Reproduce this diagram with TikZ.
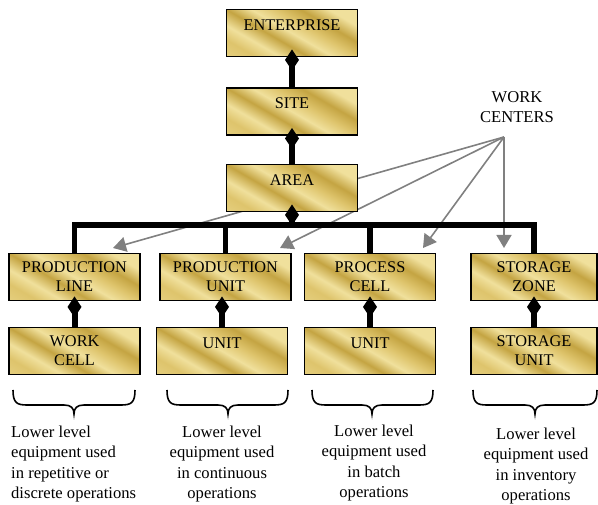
\documentclass[tikz,border=0pt]{standalone}
\usepackage{fontspec}
\setmainfont{Liberation Serif}
\usetikzlibrary{arrows.meta}
\definecolor{gA}{RGB}{240,224,156}
\definecolor{gB}{RGB}{196,164,66}
\definecolor{gC}{RGB}{222,196,108}
\definecolor{grayline}{RGB}{128,128,128}
\pgfdeclarehorizontalshading{goldsh}{100bp}{color(0bp)=(gA); color(25bp)=(gC); color(33bp)=(gA); color(42bp)=(gB); color(50bp)=(gA); color(58bp)=(gC); color(66bp)=(gB); color(75bp)=(gA); color(100bp)=(gA)}
\tikzset{
  box/.style={draw=black, line width=1.8pt, shading=goldsh, shading angle=60,
    minimum width=131pt, minimum height=47pt, inner sep=0pt, align=center,
    font=\fontsize{16.3}{19}\selectfont},
  oneline/.style={text height=21pt, text depth=26pt},
  comp/.style={line width=6pt, -{Diamond[length=21pt,width=14pt]}, shorten >=-8pt},
  comptwo/.style={comp, shorten >=-5pt},
  bus/.style={line width=5.5pt, line join=miter},
  ptr/.style={draw=grayline, line width=1.6pt, -{Triangle[length=13pt,width=15pt]}},
  brc/.style={line width=1.6pt},
  note/.style={font=\fontsize{16.6}{20.2}\selectfont, inner sep=0pt}
}
\begin{document}
\begin{tikzpicture}[x=1pt,y=-1pt]
\useasboundingbox (0,0) rectangle (598,505);
% work centers label and pointers
\node[note, align=center] (wc) at (517,107) {WORK\\CENTERS};
\coordinate (wcs) at (504,137);
\coordinate (t1) at (113,248);
\coordinate (t2) at (280,248);
\coordinate (t3) at (423,248);
\coordinate (t4) at (504,248);
\draw[ptr] (wcs) -- (t1);
\draw[ptr] (wcs) -- (t2);
\draw[ptr] (wcs) -- (t3);
\draw[ptr] (wcs) -- (t4);
% boxes
\node[box,oneline] (ent) at (292,33) {ENTERPRISE};
\node[box,oneline] (site) at (292,111.5) {SITE};
\node[box,oneline] (area) at (292,188) {AREA};
\node[box] (pl) at (74.5,277) {PRODUCTION\\LINE};
\node[box] (pu) at (225.5,277) {PRODUCTION\\UNIT};
\node[box] (pc) at (370,277) {PROCESS\\CELL};
\node[box, minimum width=126pt] (sz) at (534,277) {STORAGE\\ZONE};
\node[box] (wcell) at (74.5,351) {WORK\\CELL};
\node[box,oneline] (u1) at (222,351) {UNIT};
\node[box,oneline] (u2) at (370,351) {UNIT};
\node[box, minimum width=126pt] (su) at (534,351) {STORAGE\\UNIT};
% composition connectors
\draw[comp] (site.north) -- (ent.south);
\draw[comp] (area.north) -- (site.south);
\coordinate (busc) at (292,225);
\draw[bus] (pl.north) |- (busc) -| (sz.north);
\draw[bus] (pu.north) -- (pu.north |- busc);
\draw[bus] (pc.north) -- (pc.north |- busc);
\draw[comp] (busc) -- (area.south);
\draw[comptwo] (wcell.north) -- (pl.south);
\draw[comptwo] (u1.north) -- (u1.north |- pu.south);
\draw[comptwo] (u2.north) -- (pc.south);
\draw[comptwo] (su.north) -- (sz.south);
% braces
\foreach \l/\m/\r in {13/74/135, 167/228/288, 312/372/433, 473/535/597}{
  \draw[brc] (\l,390) .. controls (\l,403) and ({\l+4},405) .. ({\l+14},405)
    -- ({\m-10},405) .. controls ({\m-3},405) and (\m,408) .. (\m,414)
    .. controls (\m,408) and ({\m+3},405) .. ({\m+10},405)
    -- ({\r-14},405) .. controls ({\r-4},405) and (\r,403) .. (\r,390);
}
% notes
\node[note, align=left, anchor=north west] (n1) at (11,426) {Lower level\\equipment used\\in repetitive or\\discrete operations};
\node[note, align=center, anchor=north] (n2) at (222,426) {Lower level\\equipment used\\in continuous\\operations};
\node[note, align=center, anchor=north] (n3) at (374,425) {Lower level\\equipment used\\in batch\\operations};
\node[note, align=center, anchor=north] (n4) at (536,428) {Lower level\\equipment used\\in inventory\\operations};
\end{tikzpicture}
\end{document}
